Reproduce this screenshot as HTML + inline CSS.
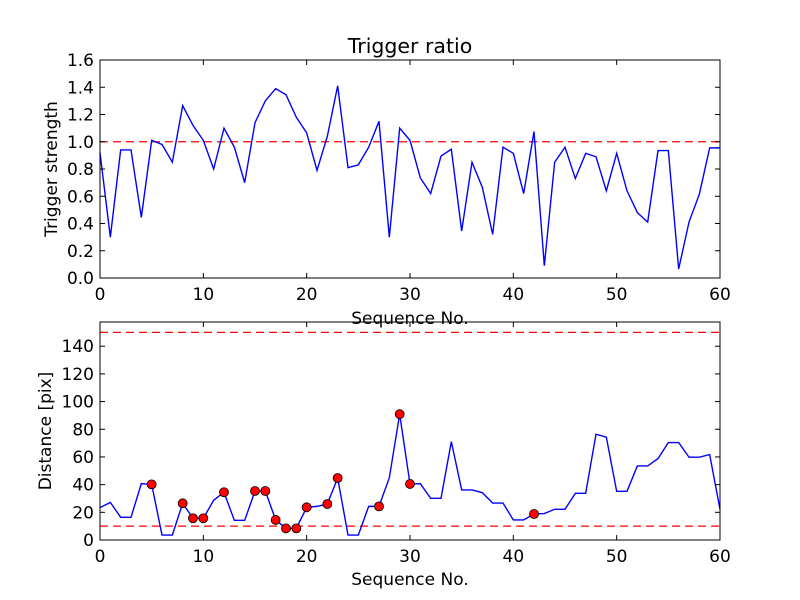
<!DOCTYPE html>
<html><head><meta charset="utf-8"><style>
body{margin:0;background:#fff}
svg{display:block;font-family:"DejaVu Sans","Liberation Sans",sans-serif}
</style></head><body>
<svg id="chart" width="800" height="600" viewBox="0 0 800 600"></svg>
<script>
const seqTop = Array.from({length:61},(_,i)=>i);
const strength = [0.92,0.30,0.94,0.94,0.445,1.01,0.98,0.85,1.265,1.12,1.01,0.80,1.10,0.96,0.70,1.14,1.30,1.39,1.345,1.18,1.065,0.79,1.04,1.41,0.81,0.83,0.96,1.15,0.30,1.10,1.01,0.735,0.62,0.895,0.945,0.345,0.85,0.665,0.32,0.96,0.915,0.62,1.075,0.09,0.85,0.96,0.73,0.915,0.89,0.64,0.915,0.64,0.48,0.41,0.935,0.935,0.066,0.41,0.615,0.955,0.955];
const distance = [23.4,27.2,16.4,16.4,40.7,40.2,3.6,3.6,26.5,15.7,15.7,28.7,34.5,14.2,14.2,35.4,35.4,14.5,8.4,8.4,23.6,24.3,26,44.8,3.6,3.6,24.3,24.3,45,90.9,40.5,40.7,30.1,30.1,71.1,36.2,36.2,34.2,26.7,26.7,14.5,14.5,18.8,19.1,22.2,22.2,33.7,33.7,76.4,74.3,35.2,35.2,53.5,53.5,58.8,70.4,70.4,59.8,59.8,61.7,22.2];
const markerIdx = [5,8,9,10,12,15,16,17,18,19,20,22,23,27,29,30,42];
const xTicks = [0,10,20,30,40,50,60];
const yTicksTop = [0,0.2,0.4,0.6,0.8,1.0,1.2,1.4,1.6];
const yTicksBot = [0,20,40,60,80,100,120,140];
const thrTop = [1.0];
const thrBot = [10,150];

const svg = document.getElementById('chart');
const NS='http://www.w3.org/2000/svg';
function mk(tag,attrs,parent){const e=document.createElementNS(NS,tag);for(const k in attrs)e.setAttribute(k,attrs[k]);(parent||svg).appendChild(e);return e;}

function panel(cfg){
  const {x0,x1,y0,y1,ymin,ymax,name}=cfg;
  const sx=v=>x0+(v-0)/(60-0)*(x1-x0);
  const sy=v=>y1-(v-ymin)/(ymax-ymin)*(y1-y0);
  const g=mk('g',{});
  
  
  cfg.thr.forEach(t=>{
    const l=mk('line',{x1:x0,x2:x1,y1:sy(t),y2:sy(t),stroke:'#f00','stroke-width':1.3,'stroke-dasharray':'8,5'},g);
    
    
  });
  const pts=cfg.vals.map((v,i)=>sx(cfg.xs[i]).toFixed(2)+','+sy(v).toFixed(2)).join(' ');
  const pl=mk('polyline',{points:pts,fill:'none',stroke:'#00f','stroke-width':1.4},g);
  
  
  if(cfg.markers){
    cfg.markers.forEach(i=>{
      const c=mk('circle',{cx:sx(cfg.xs[i]),cy:sy(cfg.vals[i]),r:4.5,fill:'#f00',stroke:'#000','stroke-width':0.8},g);
      
      
    });
  }
  const fr=mk('rect',{x:x0,y:y0,width:x1-x0,height:y1-y0,fill:'none',stroke:'#000','stroke-width':1},g);
  
  
  xTicks.forEach(t=>{
    const X=sx(t);
    mk('line',{x1:X,x2:X,y1:y1,y2:y1-5,stroke:'#000'},g);
    mk('line',{x1:X,x2:X,y1:y0,y2:y0+5,stroke:'#000'},g);
    const tx=mk('text',{x:X,y:y1+22,'text-anchor':'middle','font-size':17},g);
    tx.textContent=t;
    
    
  });
  cfg.yt.forEach(t=>{
    const Y=sy(t);
    mk('line',{x1:x0,x2:x0+5,y1:Y,y2:Y,stroke:'#000'},g);
    mk('line',{x1:x1,x2:x1-5,y1:Y,y2:Y,stroke:'#000'},g);
    const tx=mk('text',{x:x0-6,y:Y+6,'text-anchor':'end','font-size':17},g);
    tx.textContent=cfg.fmt(t);
    
    
  });
  const xl=mk('text',{x:(x0+x1)/2,y:cfg.xlabY,'text-anchor':'middle','font-size':17},g);
  xl.textContent='Sequence No.';
  
  
  const yl=mk('text',{x:0,y:0,'text-anchor':'middle','font-size':17,transform:`translate(${cfg.ylabX},${(y0+y1)/2}) rotate(-90)`},g);
  yl.textContent=cfg.ylab;
  
  
}

panel({name:'trigger-panel',x0:100,x1:720,y0:60,y1:278,ymin:0,ymax:1.6,xs:seqTop,vals:strength,thr:thrTop,yt:yTicksTop,fmt:t=>t.toFixed(1),xlabY:324,ylab:'Trigger strength',ylabX:57});
panel({name:'distance-panel',x0:100,x1:720,y0:322,y1:540,ymin:0,ymax:157.5,xs:seqTop,vals:distance,markers:markerIdx,thr:thrBot,yt:yTicksBot,fmt:t=>String(t),xlabY:585,ylabX:51,ylab:'Distance [pix]'});

const title=mk('text',{x:410,y:53,'text-anchor':'middle','font-size':20.5});
title.textContent='Trigger ratio';


</script>
</body></html>
